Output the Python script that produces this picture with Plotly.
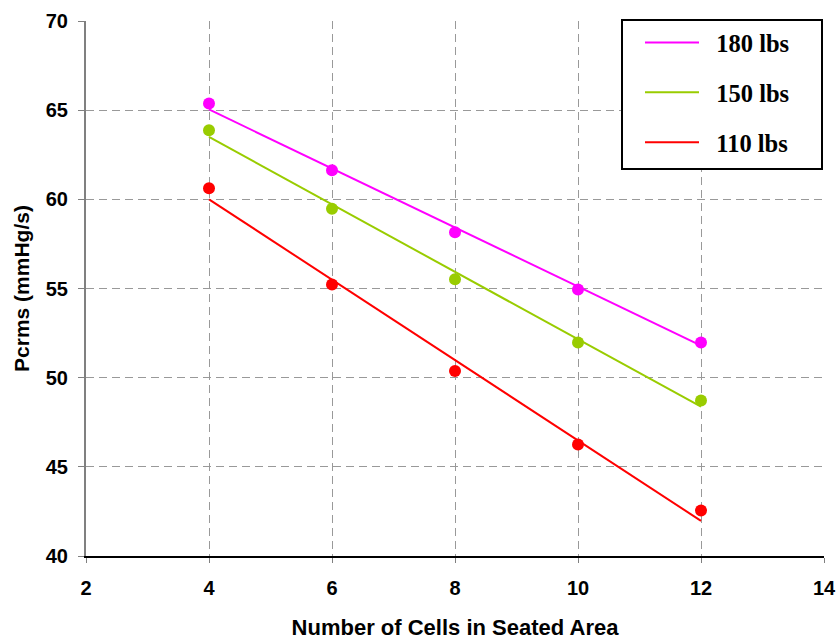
import plotly.graph_objects as go

cells = [4, 6, 8, 10, 12]
series_names = ["180 lbs", "150 lbs", "110 lbs"]
p180 = [65.38, 61.63, 58.16, 54.94, 51.97]
p150 = [63.88, 59.47, 55.52, 51.97, 48.72]
p110 = [60.62, 55.22, 50.37, 46.25, 42.55]
trend_x = [4, 12]
trend180 = [65.04, 51.80]
trend150 = [63.50, 48.37]
trend110 = [60.00, 41.97]
colors = ["#FF00FF", "#99CC00", "#FF0000"]
x_ticks = [2, 4, 6, 8, 10, 12, 14]
y_ticks = [40, 45, 50, 55, 60, 65, 70]

NB = "\u00a0"

fig = go.Figure()
for name, pts, trend, col in zip(series_names, [p180, p150, p110],
                                 [trend180, trend150, trend110], colors):
    fig.add_trace(go.Scatter(x=trend_x, y=trend, mode="lines", name=NB * 2 + name,
                             line=dict(color=col, width=2), legendgroup=name))
    fig.add_trace(go.Scatter(x=cells, y=pts, mode="markers", name=name,
                             marker=dict(color=col, size=12), showlegend=False,
                             legendgroup=name))

# plot area in pixels: x 86..824, y 21..556
PX0, PW, PY0, PH = 86, 738, 21, 535


def px_x(p):
    return (p - PX0) / PW


def px_y(p):
    return (PY0 + PH - p) / PH


tickfont = dict(family="Liberation Sans", size=20, color="black", weight="bold")
fig.update_layout(
    width=840, height=641,
    margin=dict(l=86, r=16, t=21, b=85, autoexpand=False),
    plot_bgcolor="white", paper_bgcolor="white",
    showlegend=True,
    shapes=[dict(type="rect", xref="paper", yref="paper",
                 x0=px_x(622), x1=px_x(822), y0=px_y(169), y1=px_y(20),
                 line=dict(color="black", width=2), fillcolor="white", layer="above")],
    legend=dict(
        x=px_x(640), xanchor="left",
        y=px_y(20), yanchor="top",
        bgcolor="rgba(0,0,0,0)", borderwidth=0,
        font=dict(family="Liberation Serif", size=24.5, color="black", weight="bold"),
        tracegroupgap=15, itemwidth=54,
    ),
    xaxis=dict(
        range=[2, 14], tickvals=x_ticks, showgrid=True,
        gridcolor="#999999", griddash="8px,5px", gridwidth=1,
        showline=True, linecolor="black", linewidth=2,
        ticks="outside", ticklen=5, tickcolor="#808080",
        tickfont=tickfont, zeroline=False, ticklabelstandoff=8,
        title=dict(text="Number of Cells in Seated Area",
                   font=dict(family="Liberation Sans", size=22, color="black", weight="bold"),
                   standoff=22),
    ),
    yaxis=dict(
        range=[40, 70], tickvals=y_ticks, showgrid=True,
        gridcolor="#999999", griddash="8px,5px", gridwidth=1,
        showline=True, linecolor="#808080", linewidth=2,
        ticks="outside", ticklen=6, tickcolor="#808080",
        tickfont=tickfont, zeroline=False, ticklabelstandoff=6,
        title=dict(text="Pcrms (mmHg/s)",
                   font=dict(family="Liberation Sans", size=21, color="black", weight="bold"),
                   standoff=10),
    ),
)

fig.write_html("out.html")
